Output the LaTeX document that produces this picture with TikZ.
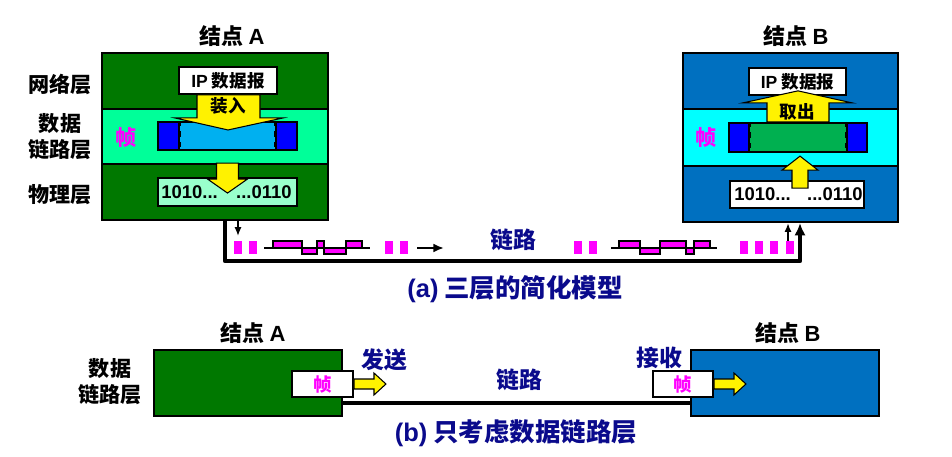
\documentclass[tikz,border=0pt]{standalone}
\usepackage{fontspec}
\setmainfont{Noto Sans CJK SC}
\newfontfamily\lat{Liberation Sans}
\usetikzlibrary{positioning,arrows.meta,calc}

\definecolor{grnA}{RGB}{0,120,0}
\definecolor{bandA}{RGB}{0,255,153}
\definecolor{midA}{RGB}{0,176,240}
\definecolor{capblue}{RGB}{0,0,255}
\definecolor{mint}{RGB}{153,255,204}
\definecolor{bluB}{RGB}{0,112,192}
\definecolor{bandB}{RGB}{0,255,255}
\definecolor{midB}{RGB}{0,176,80}
\definecolor{ink}{RGB}{10,10,140}
\definecolor{mag}{RGB}{255,0,255}

\tikzset{
  sz/.style 2 args={minimum width=#1*0.02cm, minimum height=#2*0.02cm},
  layer/.style={draw=black, line width=1.3pt, inner sep=0pt},
  tag/.style={draw=black, line width=1.1pt, fill=white, inner sep=0pt},
  ylw/.style={fill=yellow, draw=black, line width=0.6pt},
  title/.style={font=\bfseries\fontsize{12.5}{15}\selectfont},
  lbl/.style={font=\bfseries\fontsize{12}{14.5}\selectfont, align=center},
  small/.style={font=\bfseries\fontsize{10}{12}\selectfont},
  bits/.style={font=\lat\bfseries\fontsize{10.5}{12}\selectfont, inner sep=0pt},
  frm/.style={text=mag, font=\bfseries\fontsize{12}{14}\selectfont},
  capt/.style={text=ink, font=\bfseries\fontsize{14.5}{17}\selectfont},
  wire/.style={line width=2.6pt, line join=round}
}

\begin{document}
\begin{tikzpicture}[x=0.02cm, y=-0.02cm]
  \useasboundingbox (0,0) rectangle (952,456);
  \def\bw{7.5} % width of a magenta bar
  % (a) node A
  \node[layer, fill=grnA, sz={226}{167}] (nodeA) at (215,136.5) {};
  \node[layer, fill=bandA, sz={226}{55}] (bandA) at (215,136.5) {};
  \node[tag, sz={98}{27}] (ipA) at (228,80.5) {\bfseries\fontsize{10}{12}\selectfont{\lat IP} 数据报};
  \node[layer, fill=midA, sz={139}{28}] (frameA) at (227.5,136) {};
  \node[layer, fill=capblue, sz={21}{28}, anchor=west] (capA1) at (frameA.west) {};
  \node[layer, fill=capblue, sz={21}{28}, anchor=east] (capA2) at (frameA.east) {};
  \draw[dashed, line width=1pt] (capA1.north east) -- (capA1.south east);
  \draw[dashed, line width=1pt] (capA2.north west) -- (capA2.south west);
  \node[tag, fill=mint, sz={139}{28}] (bitsA) at (227.5,192) {};
  % load arrow and arrow to the bits
  \filldraw[ylw] ($(ipA.south)+(-31,0)$) -- ++(0,23) -- ++(-22,0) -- ++(53,12)
    -- ++(55,-12) -- ++(-23,0) -- ++(0,-23) -- cycle;
  \node[small] (loadA) at (228,106) {装入};
  \filldraw[ylw] ($(bitsA.north)+(-11,-14)$) -- ++(0,16) -- ++(-9,0) -- ++(20,14)
    -- ++(20,-14) -- ++(-9,0) -- ++(0,-16) -- cycle;
  \node[bits, anchor=west] (oneA) at ($(bitsA.west)+(4,0)$) {1010...};
  \node[bits, anchor=east] (twoA) at ($(bitsA.east)+(-6,0)$) {...0110};
  \node[frm] (zhenA) at (126,137) {帧};

  % (a) node B
  \node[layer, fill=bluB, sz={215}{169}] (nodeB) at (790.5,137.5) {};
  \node[layer, fill=bandB, sz={215}{57}] (bandB) at (790.5,137.5) {};
  \node[tag, sz={97}{27}] (ipB) at (797.5,81.5) {\bfseries\fontsize{10}{12}\selectfont{\lat IP} 数据报};
  \node[layer, fill=midB, sz={138}{29}] (frameB) at (798,137.5) {};
  \node[layer, fill=capblue, sz={20}{29}, anchor=west] (capB1) at (frameB.west) {};
  \node[layer, fill=capblue, sz={20}{29}, anchor=east] (capB2) at (frameB.east) {};
  \draw[dashed, line width=1pt] (capB1.north east) -- (capB1.south east);
  \draw[dashed, line width=1pt] (capB2.north west) -- (capB2.south west);
  \node[tag, sz={134}{27}] (bitsB) at (797,194.5) {};
  \filldraw[ylw] ($(frameB.north)+(-31,0)$) -- ++(0,-19) -- ++(-24,0) -- ++(55,-12)
    -- ++(54,12) -- ++(-23,0) -- ++(0,19) -- cycle;
  \node[small] (takeB) at (797,112) {取出};
  \filldraw[ylw] ($(frameB.south)+(-6,35)$) -- ++(0,-18) -- ++(-10,0) -- ++(18,-14)
    -- ++(18,14) -- ++(-10,0) -- ++(0,18) -- cycle;
  \node[bits, anchor=west] (oneB) at ($(bitsB.west)+(5,0)$) {1010...};
  \node[bits, anchor=east] (twoB) at ($(bitsB.east)+(-2,0)$) {...0110};
  \node[frm] (zhenB) at (706,137) {帧};

  % titles and layer names
  \node[title] (tA) at (232,36) {结点 {\lat A}};
  \node[title] (tB) at (796,36) {结点 {\lat B}};
  \node[lbl] (netL) at (60,84) {网络层};
  \node[lbl] (dlL) at (60,136.5) {数据\\链路层};
  \node[lbl] (phyL) at (60,195) {物理层};

  % the link of (a)
  \draw[wire, -{Latex[length=7pt,width=6.5pt]}] (nodeA.south -| 225,0) -- (225,261) -| (nodeB.south -| 800,0);
  \coordinate (dropA) at (238,236);
  \coordinate (riseB) at (788,241);
  \draw[line width=0.9pt, -{Latex[length=5pt,width=4pt]}] (nodeA.south -| dropA) -- (dropA);
  \draw[line width=0.9pt, -{Latex[length=5pt,width=4pt]}] (riseB) -- (nodeB.south -| riseB);
  \foreach \x in {234,249,385,400,574,589,740,755,770,786}
    \fill[mag] (\x,241) rectangle ++(\bw,13);
  % two bit streams
  \draw[line width=0.9pt] (264,248) -- (370,248);
  \draw[line width=0.9pt] (611,248) -- (717,248);
  \foreach \a/\b/\d in {273/302/-7, 302/317/6, 317/324/-7, 324/346/6, 346/362/-7,
                        619/640/-7, 640/660/6, 660/686/-7, 686/694/6, 694/710/-7}
    \filldraw[fill=mag, line width=0.9pt] (\a,248) rectangle (\b,248+\d);
  \coordinate (goL) at (417,248);
  \coordinate (goR) at (444,248);
  \draw[line width=1.2pt, -{Latex[length=6pt,width=5pt]}] (goL) -- (goR);
  \node[capt, font=\bfseries\fontsize{13}{15}\selectfont] (linkA) at (513,240) {链路};
  \node[capt] (captA) at (515,289) {{\lat (a)} 三层的简化模型};

  % (b) only the data link layer
  \node[layer, fill=grnA, sz={188}{66}] (boxA) at (248,383) {};
  \node[layer, fill=bluB, sz={188}{66}] (boxB) at (785,383) {};
  \draw[wire] (boxA.east |- 0,403) -- (boxB.west |- 0,403);
  \node[tag, sz={61}{26}, text=mag, font=\bfseries\fontsize{10.5}{12}\selectfont] (frA) at (322.5,384) {帧};
  \node[tag, sz={60}{26}, text=mag, font=\bfseries\fontsize{10.5}{12}\selectfont] (frB) at (683,384) {帧};
  \filldraw[ylw] ($(frA.east)+(0,-5)$) -- ++(20,0) -- ++(0,-6) -- ++(12,11)
    -- ++(-12,11) -- ++(0,-6) -- ++(-20,0) -- cycle;
  \filldraw[ylw] ($(frB.east)+(0,-5)$) -- ++(20,0) -- ++(0,-6) -- ++(12,11)
    -- ++(-12,11) -- ++(0,-6) -- ++(-20,0) -- cycle;
  \node[title] (tA2) at (253,333) {结点 {\lat A}};
  \node[title] (tB2) at (788,333) {结点 {\lat B}};
  \node[lbl] (dlL2) at (110,381.5) {数据\\链路层};
  \node[capt, font=\bfseries\fontsize{13}{15}\selectfont] (sendA) at (384,360) {发送};
  \node[capt, font=\bfseries\fontsize{13}{15}\selectfont] (recvB) at (659,358) {接收};
  \node[capt, font=\bfseries\fontsize{13}{15}\selectfont] (linkB) at (519,380) {链路};
  \node[capt] (captB) at (516,433) {{\lat (b)} 只考虑数据链路层};
\end{tikzpicture}
\end{document}
